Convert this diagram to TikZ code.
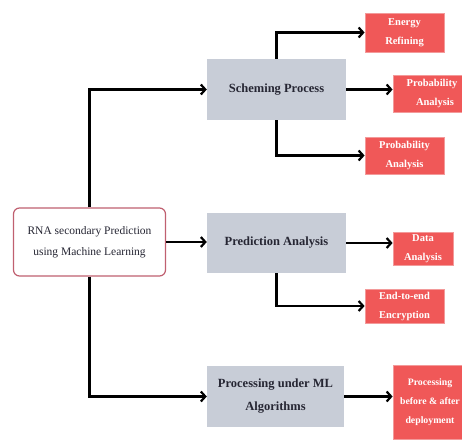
\documentclass[tikz,border=0pt]{standalone}
\usepackage{fontspec}
\setmainfont{Liberation Serif}
\usetikzlibrary{arrows.meta}
\definecolor{boxred}{HTML}{F05858}
\definecolor{boxredline}{HTML}{F39A9A}
\definecolor{boxgray}{HTML}{C8CDD7}
\definecolor{rnaline}{HTML}{C06070}
\definecolor{txtdark}{HTML}{262633}
\tikzset{
  mainbox/.style={draw=rnaline, line width=1.2pt, fill=white, rounded corners=6pt, align=center, font=\fontsize{11.5}{21}\selectfont, text=txtdark},
  graybox/.style={fill=boxgray, align=center, font=\bfseries\fontsize{12.5}{23}\selectfont, text=txtdark},
  redbox/.style={fill=boxred, draw=boxredline, line width=0.8pt, align=center, inner sep=1pt, font=\bfseries\fontsize{10.5}{19}\selectfont, text=white},
  arr/.style={line width=2.2pt, -{Straight Barb[length=4.5pt,width=10pt,line width=2.2pt]}}
}
\begin{document}
\begin{tikzpicture}[x=1pt,y=-1pt]
\clip (0,0) rectangle (462,441);
\fill[white] (0,0) rectangle (462,441);
% main
\node[mainbox, minimum width=152pt, minimum height=68pt] (rna) at (89.5,242) {RNA secondary Prediction\\using Machine Learning};
% gray boxes
\node[graybox, minimum width=139pt, minimum height=61pt] (sch) at (276.5,89.5) {Scheming Process};
\node[graybox, minimum width=139pt, minimum height=60pt] (pred) at (276.5,243) {Prediction Analysis};
\node[graybox, minimum width=137pt, minimum height=61pt] (proc) at (275.5,396.5) {Processing under ML\\Algorithms};
% red boxes
\node[redbox, minimum width=79pt, minimum height=39pt] (e1) at (404.5,32.5) {Energy\\Refining};
\node[redbox, minimum width=76pt, minimum height=37pt] (p1) at (431,93.5) {\hspace*{2pt}Probability\\\hspace*{8pt}Analysis};
\node[redbox, minimum width=79pt, minimum height=37pt] (p2) at (404.5,155.5) {Probability\\Analysis};
\node[redbox, minimum width=60pt, minimum height=33pt] (data) at (423,248.5) {Data\\Analysis};
\node[redbox, minimum width=79pt, minimum height=34pt] (enc) at (404.5,306) {End-to-end\\Encryption};
\node[redbox, minimum width=74pt, minimum height=74pt, font=\bfseries\fontsize{9.8}{19}\selectfont] (dep) at (430,402) {Processing\\before \& after\\deployment};
% connectors
\draw[arr] (rna.north) |- (sch.west);
\draw[arr] (rna.east) -- (rna.east -| pred.west);
\draw[arr] (rna.south) |- (proc.west);
\draw[arr] (sch.north) |- (e1.west);
\draw[arr] (sch.east) -- (sch.east -| p1.west);
\draw[arr] (sch.south) |- (p2.west);
\draw[arr] (pred.east) -- (pred.east -| data.west);
\draw[arr] (pred.south) |- (enc.west);
\draw[arr] (proc.east) -- (proc.east -| dep.west);
\end{tikzpicture}
\end{document}
